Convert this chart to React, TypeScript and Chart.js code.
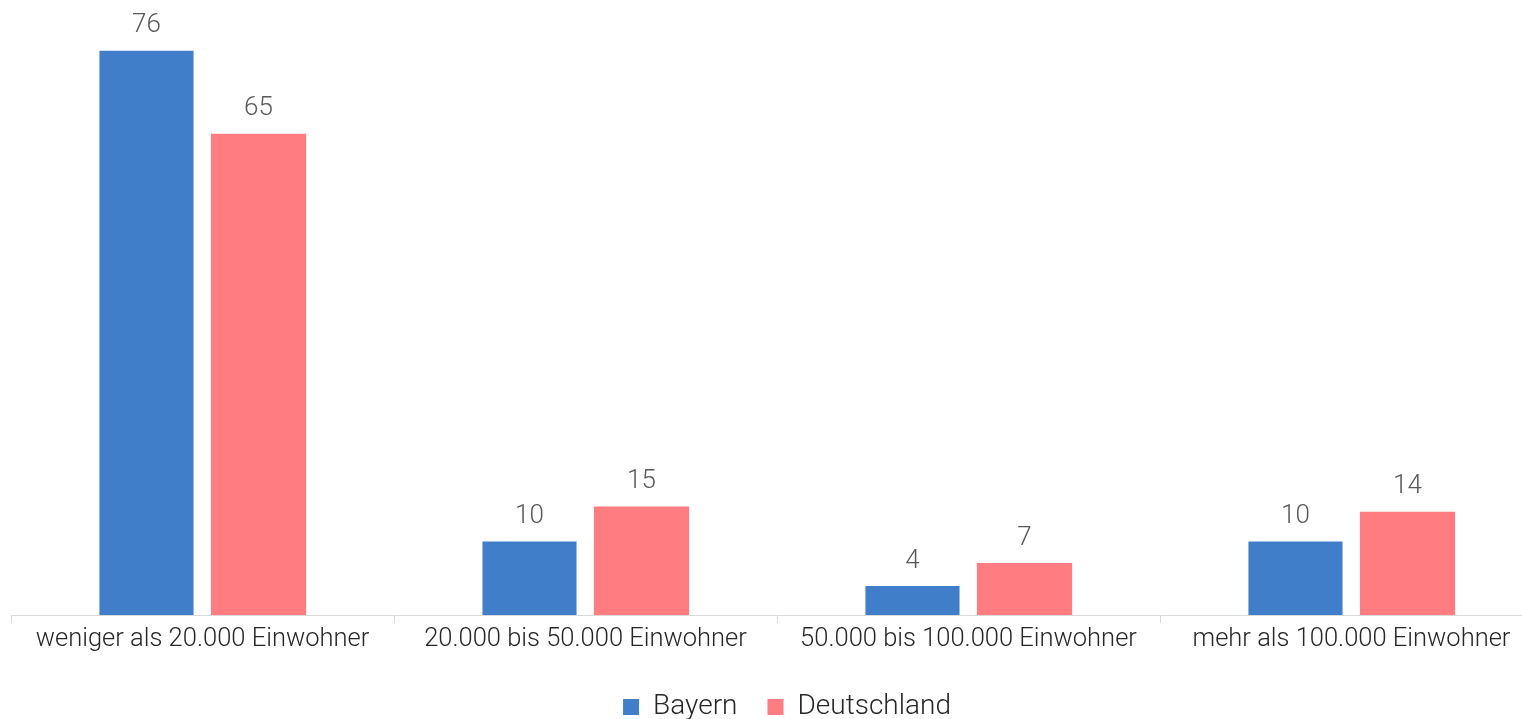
import React, { useEffect, useRef } from "react";
import { Chart, registerables } from "chart.js";

Chart.register(...registerables);

const categories = [
  "weniger als 20.000 Einwohner",
  "20.000 bis 50.000 Einwohner",
  "50.000 bis 100.000 Einwohner",
  "mehr als 100.000 Einwohner",
];
const bayern = [76, 9.9, 3.9, 9.9];
const deutschland = [64.8, 14.6, 7, 13.9];
const seriesNames = ["Bayern", "Deutschland"];
const seriesColors = ["#407EC9", "#FF7C80"];

const valueLabels = {
  id: "valueLabels",
  afterDatasetsDraw(chart: any) {
    const ctx = chart.ctx;
    ctx.save();
    ctx.font = "300 26px Roboto";
    ctx.fillStyle = "#595959";
    ctx.textAlign = "center";
    ctx.textBaseline = "middle";
    chart.data.datasets.forEach((ds: any, i: number) => {
      const meta = chart.getDatasetMeta(i);
      meta.data.forEach((bar: any, j: number) => {
        const v = ds.data[j];
        ctx.fillText(String(Math.round(v)), bar.x, bar.y - 25);
      });
    });
    ctx.restore();
  },
};

const shiftLegend = {
  id: "shiftLegend",
  afterLayout(chart: any) {
    if (chart.legend) {
      chart.legend.left += 10;
      chart.legend.right += 10;
    }
  },
};

export default function App() {
  const ref = useRef<HTMLCanvasElement>(null);
  useEffect(() => {
    if (!ref.current) return;
    Chart.defaults.font.family = "Roboto";
    const chart = new Chart(ref.current, {
      type: "bar",
      data: {
        labels: categories,
        datasets: [
          {
            label: seriesNames[0],
            data: bayern,
            backgroundColor: seriesColors[0],
            categoryPercentage: 0.585,
            barPercentage: 0.84,
          },
          {
            label: seriesNames[1],
            data: deutschland,
            backgroundColor: seriesColors[1],
            categoryPercentage: 0.585,
            barPercentage: 0.85,
          },
        ],
      },
      options: {
        responsive: false,
        animation: false,
        layout: { padding: { left: 11, right: 27, top: 21, bottom: 0 } },
        plugins: {
          legend: {
            position: "bottom",
            labels: {
              boxWidth: 16,
              boxHeight: 16,
              padding: 30,
              color: "#262626",
              font: { family: "Roboto", size: 28, weight: "300" as any },
            },
          },
          tooltip: { enabled: false },
        },
        scales: {
          x: {
            grid: {
              display: true,
              drawOnChartArea: false,
              drawTicks: true,
              tickLength: 8,
              color: "#d9d9d9",
            },
            border: { display: true, color: "#d9d9d9", width: 1 },
            ticks: {
              color: "#262626",
              padding: 1,
              maxRotation: 0,
              autoSkip: false,
              font: { family: "Roboto", size: 25.5, weight: "300" as any },
            },
            afterFit(scale: any) {
              scale.height = 48;
            },
          },
          y: {
            display: false,
            min: 0,
            max: 80,
          },
        },
      },
      plugins: [valueLabels, shiftLegend],
    });
    return () => chart.destroy();
  }, []);
  return (
    <div
      style={{
        position: "fixed",
        left: 0,
        top: 0,
        width: 1522,
        height: 719,
        overflow: "hidden",
        background: "#fff",
      }}
    >
      <canvas ref={ref} width={1570} height={731} style={{ display: "block" }} />
    </div>
  );
}
